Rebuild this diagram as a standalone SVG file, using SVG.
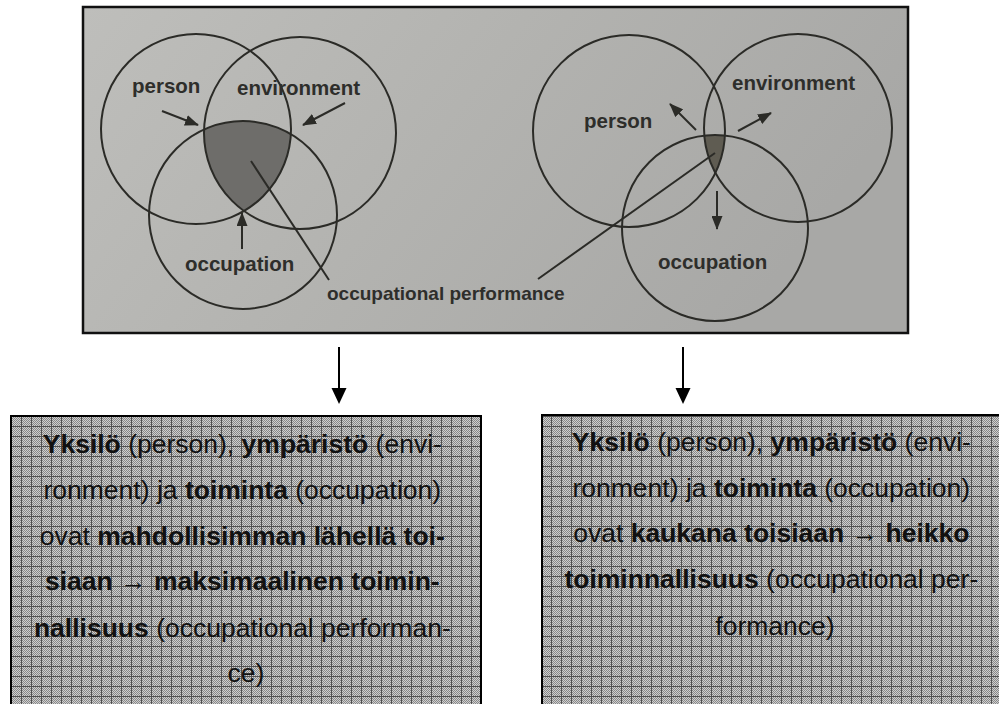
<svg xmlns="http://www.w3.org/2000/svg" width="999" height="704" viewBox="0 0 999 704">
<style>
.bg{fill:#ffffff}
.circ{fill:none;stroke:#2b2b27;stroke-width:2}
.lbl{font-family:"Liberation Sans",Arial,sans-serif;font-weight:bold;font-size:20.5px;fill:#2e2e2b}
.perf{font-family:"Liberation Sans",Arial,sans-serif;font-weight:bold;font-size:19px;fill:#2e2e2b}
.parr{stroke:#2b2b27;stroke-width:2;fill:none;marker-end:url(#ph)}
.ptr{stroke:#2b2b27;stroke-width:2;fill:none}
.conn{stroke:#000;stroke-width:2;fill:none;marker-end:url(#ah)}
.box{stroke:#000;stroke-width:2}
.t{font-family:"Liberation Sans",Arial,sans-serif;font-size:26.5px;fill:#111}
.b{font-weight:bold}
</style>
<defs>
<linearGradient id="photo" x1="0" y1="0" x2="1" y2="0.3">
<stop offset="0" stop-color="#bebebb"/>
<stop offset="0.5" stop-color="#b3b3b0"/>
<stop offset="1" stop-color="#a8a8a6"/>
</linearGradient>
<marker id="ph" markerUnits="userSpaceOnUse" markerWidth="14" markerHeight="11" refX="13" refY="5.5" orient="auto">
<path d="M0,0 L14,5.5 L0,11 z" fill="#2b2b27"/>
</marker>
<marker id="ah" markerUnits="userSpaceOnUse" markerWidth="16" markerHeight="16" refX="13" refY="7.5" orient="auto">
<path d="M0,0 L16,7.5 L0,15 z" fill="#000"/>
</marker>
<pattern id="checker" width="2" height="2" patternUnits="userSpaceOnUse">
<rect width="2" height="2" fill="#cfcfcf"/>
<rect width="1" height="1" fill="#878787"/>
<rect x="1" y="1" width="1" height="1" fill="#878787"/>
</pattern>
<pattern id="grid" width="10" height="10" patternUnits="userSpaceOnUse" x="1" y="6">
<path d="M0,0.5 H10 M0.5,0 V10" stroke="#505050" stroke-width="1"/>
</pattern>
<clipPath id="lp"><circle cx="196" cy="129" r="95"/></clipPath>
<clipPath id="lo"><circle cx="243" cy="215" r="94"/></clipPath>
<clipPath id="rp"><circle cx="629" cy="131" r="96"/></clipPath>
<clipPath id="ro"><circle cx="715" cy="228" r="93"/></clipPath>
</defs>
<rect class="bg" width="999" height="704"/>

<g id="photo">
<rect x="83" y="7" width="825" height="326" fill="url(#photo)" stroke="#111" stroke-width="2.5"/>
</g>

<g id="venn-left">
<g clip-path="url(#lp)"><circle cx="300" cy="133" r="96" fill="#6e6d6a" clip-path="url(#lo)"/></g>
<circle class="circ" cx="196" cy="129" r="95"/>
<circle class="circ" cx="300" cy="133" r="96"/>
<circle class="circ" cx="243" cy="215" r="94"/>
<text class="lbl" x="132" y="93">person</text>
<text class="lbl" x="237" y="95">environment</text>
<text class="lbl" x="185" y="271">occupation</text>
<line class="parr" x1="162" y1="111" x2="198" y2="125"/>
<line class="parr" x1="345" y1="103" x2="303" y2="125"/>
<line class="parr" x1="242" y1="249" x2="242" y2="213"/>
<line class="ptr" x1="251" y1="161" x2="329" y2="280"/>
</g>

<g id="venn-right">
<g clip-path="url(#rp)"><circle cx="798" cy="128" r="94" fill="#5f5c52" clip-path="url(#ro)"/></g>
<circle class="circ" cx="629" cy="131" r="96"/>
<circle class="circ" cx="798" cy="128" r="94"/>
<circle class="circ" cx="715" cy="228" r="93"/>
<text class="lbl" x="584" y="128">person</text>
<text class="lbl" x="732" y="90">environment</text>
<text class="lbl" x="658" y="269">occupation</text>
<line class="parr" x1="696" y1="130" x2="670" y2="104"/>
<line class="parr" x1="738" y1="131" x2="771" y2="113"/>
<line class="parr" x1="717" y1="191" x2="717" y2="229"/>
<line class="ptr" x1="715" y1="153" x2="538" y2="279"/>
</g>

<g id="perf-label">
<text class="perf" x="327" y="300">occupational performance</text>
</g>

<g id="connectors">
<line class="conn" x1="339" y1="347" x2="339" y2="401"/>
<line class="conn" x1="683" y1="347" x2="683" y2="401"/>
</g>

<g id="box-left">
<rect x="11" y="416" width="470" height="300" fill="url(#checker)"/>
<rect x="11" y="416" width="470" height="300" fill="url(#grid)" class="box"/>
<text class="t" text-anchor="middle">
<tspan x="246" y="453"><tspan class="b">Yksilö</tspan> (person), <tspan class="b">ympäristö</tspan> (envi-</tspan>
<tspan x="246" y="499">ronment) ja <tspan class="b">toiminta</tspan> (occupation)</tspan>
<tspan x="246" y="545">ovat <tspan class="b">mahdollisimman lähellä toi-</tspan></tspan>
<tspan x="246" y="590"><tspan class="b">siaan</tspan> → <tspan class="b">maksimaalinen toimin-</tspan></tspan>
<tspan x="246" y="637"><tspan class="b">nallisuus</tspan> (occupational performan-</tspan>
<tspan x="246" y="682">ce)</tspan>
</text>
</g>

<g id="box-right">
<rect x="542" y="415" width="480" height="300" fill="url(#checker)"/>
<rect x="542" y="415" width="480" height="300" fill="url(#grid)" class="box"/>
<text class="t" text-anchor="middle">
<tspan x="775" y="451"><tspan class="b">Yksilö</tspan> (person), <tspan class="b">ympäristö</tspan> (envi-</tspan>
<tspan x="775" y="497">ronment) ja <tspan class="b">toiminta</tspan> (occupation)</tspan>
<tspan x="775" y="542">ovat <tspan class="b">kaukana toisiaan</tspan> → <tspan class="b">heikko</tspan></tspan>
<tspan x="775" y="588"><tspan class="b">toiminnallisuus</tspan> (occupational per-</tspan>
<tspan x="775" y="635">formance)</tspan>
</text>
</g>
</svg>
